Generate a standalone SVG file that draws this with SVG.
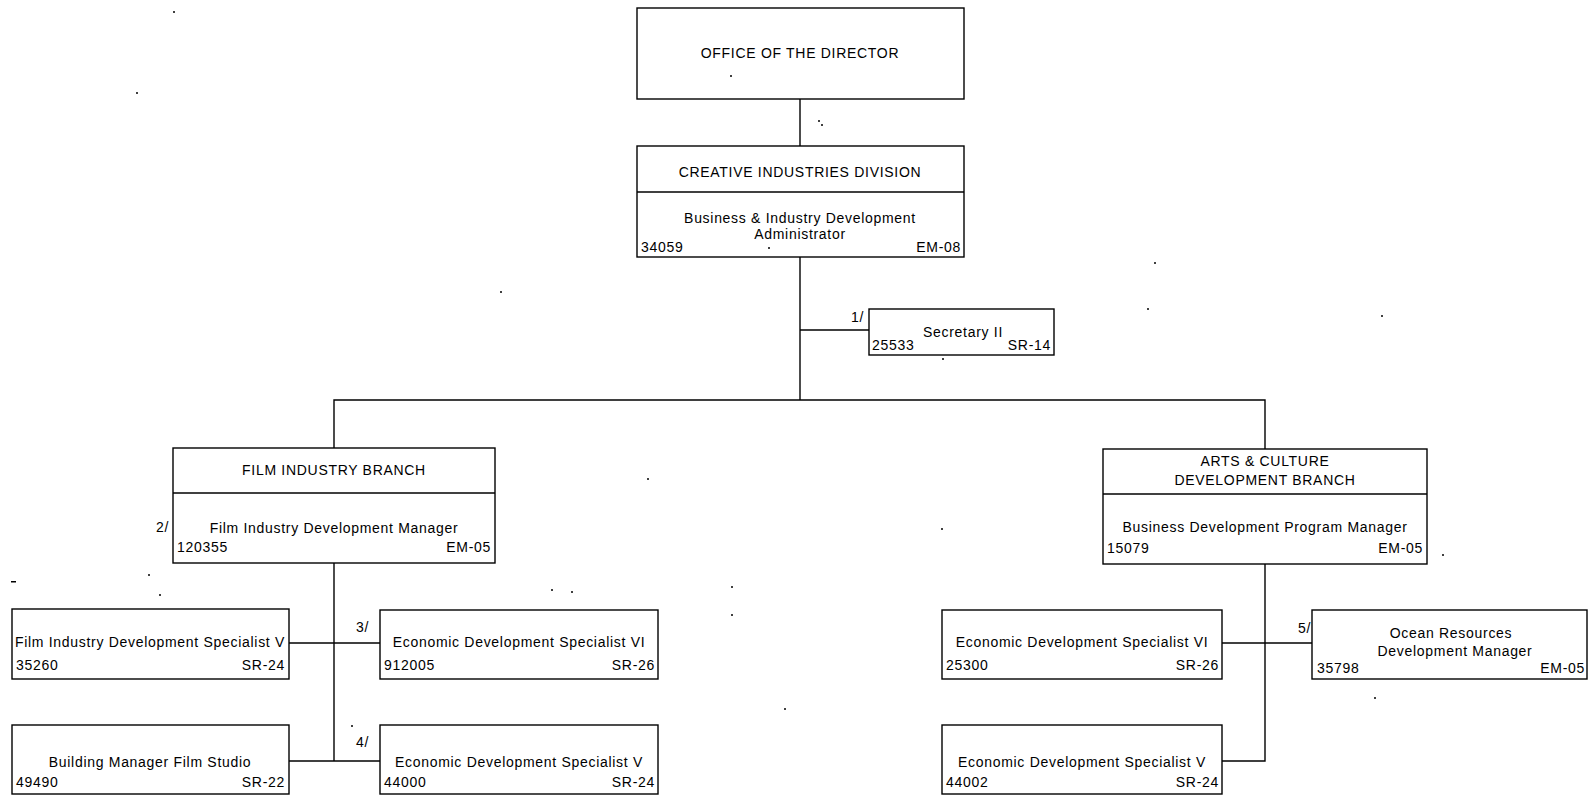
<svg xmlns="http://www.w3.org/2000/svg" width="1588" height="795" viewBox="0 0 1588 795">
<style>
  .box { fill: #ffffff; stroke: #000000; stroke-width: 1.4; }
  .div { stroke: #000000; stroke-width: 1.4; }
  .conn { fill: none; stroke: #000000; stroke-width: 1.4; }
  text { font-family: "Liberation Sans", Arial, sans-serif; font-size: 14px; letter-spacing: 0.7px; fill: #000000; }
  .c { text-anchor: middle; }
  .r { text-anchor: end; }
  .speck { fill: #000000; }
</style>
<rect x="0" y="0" width="1588" height="795" fill="#ffffff"/>

<g id="connectors">
  <path class="conn" d="M800 99 V146"/>
  <path class="conn" d="M800 257 V400"/>
  <path class="conn" d="M800 330 H869"/>
  <path class="conn" d="M334 448 V400 H1265 V449"/>
  <path class="conn" d="M334 563 V761"/>
  <path class="conn" d="M289 643 H380"/>
  <path class="conn" d="M289 761 H380"/>
  <path class="conn" d="M1265 564 V761 H1222"/>
  <path class="conn" d="M1222 643 H1312"/>
</g>

<g id="office-director">
  <rect class="box" x="637" y="8" width="327" height="91"/>
  <text class="c" x="800" y="58">OFFICE OF THE DIRECTOR</text>
</g>

<g id="creative-industries">
  <rect class="box" x="637" y="146" width="327" height="111"/>
  <line class="div" x1="637" y1="192" x2="964" y2="192"/>
  <text class="c" x="800" y="177">CREATIVE INDUSTRIES DIVISION</text>
  <text class="c" x="800" y="223">Business &amp; Industry Development</text>
  <text class="c" x="800" y="239">Administrator</text>
  <text x="641" y="252">34059</text>
  <text class="r" x="961" y="252">EM-08</text>
</g>

<g id="secretary">
  <rect class="box" x="869" y="309" width="185" height="46"/>
  <text class="r" x="864" y="322">1/</text>
  <text class="c" x="963" y="337">Secretary II</text>
  <text x="872" y="350">25533</text>
  <text class="r" x="1051" y="350">SR-14</text>
</g>

<g id="film-branch">
  <rect class="box" x="173" y="448" width="322" height="115"/>
  <line class="div" x1="173" y1="493" x2="495" y2="493"/>
  <text class="c" x="334" y="475">FILM INDUSTRY BRANCH</text>
  <text class="r" x="169" y="532">2/</text>
  <text class="c" x="334" y="533">Film Industry Development Manager</text>
  <text x="177" y="552">120355</text>
  <text class="r" x="491" y="552">EM-05</text>
</g>

<g id="arts-branch">
  <rect class="box" x="1103" y="449" width="324" height="115"/>
  <line class="div" x1="1103" y1="494" x2="1427" y2="494"/>
  <text class="c" x="1265" y="466">ARTS &amp; CULTURE</text>
  <text class="c" x="1265" y="485">DEVELOPMENT BRANCH</text>
  <text class="c" x="1265" y="532">Business Development Program Manager</text>
  <text x="1107" y="553">15079</text>
  <text class="r" x="1423" y="553">EM-05</text>
</g>

<g id="film-specialist-v">
  <rect class="box" x="12" y="609" width="277" height="70"/>
  <text class="c" x="150" y="647">Film Industry Development Specialist V</text>
  <text x="16" y="670">35260</text>
  <text class="r" x="285" y="670">SR-24</text>
</g>

<g id="building-manager">
  <rect class="box" x="12" y="725" width="277" height="69"/>
  <text class="c" x="150" y="767">Building Manager Film Studio</text>
  <text x="16" y="787">49490</text>
  <text class="r" x="285" y="787">SR-22</text>
</g>

<g id="econ-specialist-vi-film">
  <rect class="box" x="380" y="610" width="278" height="69"/>
  <text class="r" x="369" y="632">3/</text>
  <text class="c" x="519" y="647">Economic Development Specialist VI</text>
  <text x="384" y="670">912005</text>
  <text class="r" x="655" y="670">SR-26</text>
</g>

<g id="econ-specialist-v-film">
  <rect class="box" x="380" y="725" width="278" height="69"/>
  <text class="r" x="369" y="747">4/</text>
  <text class="c" x="519" y="767">Economic Development Specialist V</text>
  <text x="384" y="787">44000</text>
  <text class="r" x="655" y="787">SR-24</text>
</g>

<g id="econ-specialist-vi-arts">
  <rect class="box" x="942" y="610" width="280" height="69"/>
  <text class="c" x="1082" y="647">Economic Development Specialist VI</text>
  <text x="946" y="670">25300</text>
  <text class="r" x="1219" y="670">SR-26</text>
</g>

<g id="econ-specialist-v-arts">
  <rect class="box" x="942" y="725" width="280" height="69"/>
  <text class="c" x="1082" y="767">Economic Development Specialist V</text>
  <text x="946" y="787">44002</text>
  <text class="r" x="1219" y="787">SR-24</text>
</g>

<g id="ocean-resources">
  <rect class="box" x="1312" y="610" width="275" height="69"/>
  <text class="r" x="1311" y="633">5/</text>
  <text class="c" x="1451" y="638">Ocean Resources</text>
  <text class="c" x="1455" y="656">Development Manager</text>
  <text x="1317" y="673">35798</text>
  <text class="r" x="1585" y="673">EM-05</text>
</g>

<g id="scan-specks">
  <circle class="speck" cx="174" cy="12" r="1"/>
  <circle class="speck" cx="137" cy="93" r="1"/>
  <rect class="speck" x="11" y="581" width="5" height="1.5"/>
  <circle class="speck" cx="149" cy="575" r="1"/>
  <circle class="speck" cx="501" cy="292" r="1"/>
  <circle class="speck" cx="731" cy="76" r="1"/>
  <circle class="speck" cx="819" cy="121" r="1"/>
  <circle class="speck" cx="822" cy="125" r="1"/>
  <circle class="speck" cx="769" cy="248" r="1"/>
  <circle class="speck" cx="943" cy="359" r="1"/>
  <circle class="speck" cx="1155" cy="263" r="1"/>
  <circle class="speck" cx="1148" cy="309" r="1"/>
  <circle class="speck" cx="1382" cy="316" r="1"/>
  <circle class="speck" cx="648" cy="479" r="1"/>
  <circle class="speck" cx="942" cy="529" r="1"/>
  <circle class="speck" cx="1443" cy="555" r="1"/>
  <circle class="speck" cx="732" cy="587" r="1"/>
  <circle class="speck" cx="732" cy="615" r="1"/>
  <circle class="speck" cx="552" cy="590" r="1"/>
  <circle class="speck" cx="785" cy="709" r="1"/>
  <circle class="speck" cx="160" cy="595" r="1"/>
  <circle class="speck" cx="352" cy="726" r="1"/>
  <circle class="speck" cx="1375" cy="698" r="1"/>
  <circle class="speck" cx="572" cy="592" r="1"/>
</g>
</svg>
